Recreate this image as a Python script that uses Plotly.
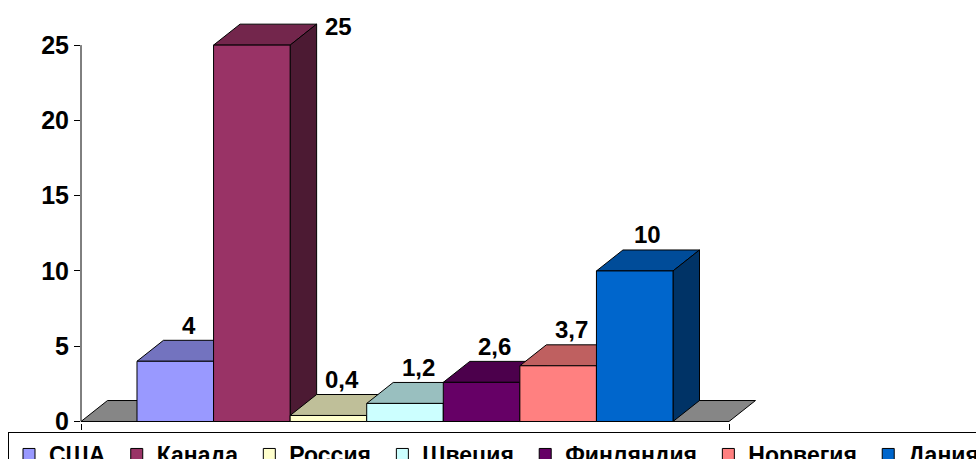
import plotly.graph_objects as go

# ---- data ----
countries = ["США", "Канада", "Россия", "Швеция", "Финляндия", "Норвегия", "Дания"]
values = [4, 25, 0.4, 1.2, 2.6, 3.7, 10]
y_ticks = [0, 5, 10, 15, 20, 25]

# ---- styles ----
front_colors = ["#9999FF", "#993366", "#FFFFCC", "#CCFFFF", "#660066", "#FF8080", "#0066CC"]
FONT = "Liberation Sans, Arial, sans-serif"

FIG_W = 1040   # page is cropped by the 976px window, like the original legend
PLOT_L = 81
PLOT_W = FIG_W - PLOT_L


def shade(hex_color, k):
    h = hex_color.lstrip("#")
    r, g, b = (int(h[i:i + 2], 16) for i in (0, 2, 4))
    return "rgb(%d,%d,%d)" % (round(r * k), round(g * k), round(b * k))


def fmt(v):
    s = ("%g" % v)
    return s.replace(".", ",")


bargap = 0.1728
n = len(values)
bw = (1 - bargap) / n
# 3D depth offsets in axis units
DX = 26.5 / 648.0
DY = 21.0 / 15.08

fig = go.Figure()
for name, v, c in zip(countries, values, front_colors):
    fig.add_trace(go.Bar(
        x=[0], y=[v], name=name + "\u00a0",
        marker=dict(color=c, line=dict(color="black", width=1)),
        hoverinfo="name+y",
    ))

shapes = []
# floor
shapes.append(dict(
    type="path", xref="x", yref="y", layer="below",
    path=f"M -0.5,0 L 0.5,0 L {0.5 + DX},{DY} L {-0.5 + DX},{DY} Z",
    fillcolor="#868686", line=dict(color="black", width=1),
))
annotations = []
vmax = max(values)
for i, (v, c) in enumerate(zip(values, front_colors)):
    x0 = -0.5 + bargap / 2 + i * bw
    x1 = x0 + bw
    # top face
    shapes.append(dict(
        type="path", xref="x", yref="y", layer="below",
        path=f"M {x0},{v} L {x1},{v} L {x1 + DX},{v + DY} L {x0 + DX},{v + DY} Z",
        fillcolor=shade(c, 0.75), line=dict(color="black", width=1),
    ))
    # side face
    shapes.append(dict(
        type="path", xref="x", yref="y", layer="below",
        path=f"M {x1},0 L {x1 + DX},{DY} L {x1 + DX},{v + DY} L {x1},{v} Z",
        fillcolor=shade(c, 0.5), line=dict(color="black", width=1),
    ))
    if v == vmax:
        annotations.append(dict(
            x=x1 + DX, y=v + DY, xref="x", yref="y", text=fmt(v), showarrow=False,
            xanchor="left", yanchor="middle", xshift=6, yshift=-2,
            font=dict(family=FONT, size=24, color="black", weight="bold"),
        ))
    else:
        annotations.append(dict(
            x=(x0 + x1) / 2 + DX / 2, y=v + DY, xref="x", yref="y", text=fmt(v),
            showarrow=False, xanchor="center", yanchor="middle", yshift=15,
            font=dict(family=FONT, size=24, color="black", weight="bold"),
        ))

# value axis line (stops at the top tick like the original)
shapes.append(dict(
    type="line", xref="paper", yref="y", x0=0, x1=0, y0=0, y1=max(y_ticks),
    line=dict(color="black", width=1), layer="above",
))

fig.update_layout(
    width=FIG_W, height=459,
    margin=dict(l=PLOT_L, r=0, t=15, b=36, autoexpand=False),
    paper_bgcolor="white", plot_bgcolor="white",
    barmode="group", bargap=bargap, bargroupgap=0,
    showlegend=True,
    legend=dict(
        orientation="h", x=(8 - PLOT_L) / PLOT_W, xanchor="left", y=-0.0221, yanchor="top",
        bordercolor="black", borderwidth=1, bgcolor="white",
        font=dict(family=FONT, size=23, color="black", weight="bold"),
        traceorder="normal",
    ),
    xaxis=dict(
        range=[-0.5, -0.5 + PLOT_W / 648], showgrid=False, zeroline=False, showline=False,
        tickmode="array", tickvals=[-0.5, 0.5], ticktext=["", ""],
        ticks="outside", ticklen=6, tickcolor="black", showticklabels=False,
    ),
    yaxis=dict(
        range=[-0.1, 27], showgrid=False, zeroline=False, showline=False,
        tickmode="array", tickvals=y_ticks, ticktext=[str(t) for t in y_ticks],
        ticks="outside", ticklen=6, tickcolor="black",
        tickfont=dict(family=FONT, size=25, color="black", weight="bold"),
    ),
    shapes=shapes,
    annotations=annotations,
)

fig.write_html(
    "out.html",
    config={"displayModeBar": False},
    post_script="document.body.style.margin='0';document.body.style.overflow='hidden';",
)
